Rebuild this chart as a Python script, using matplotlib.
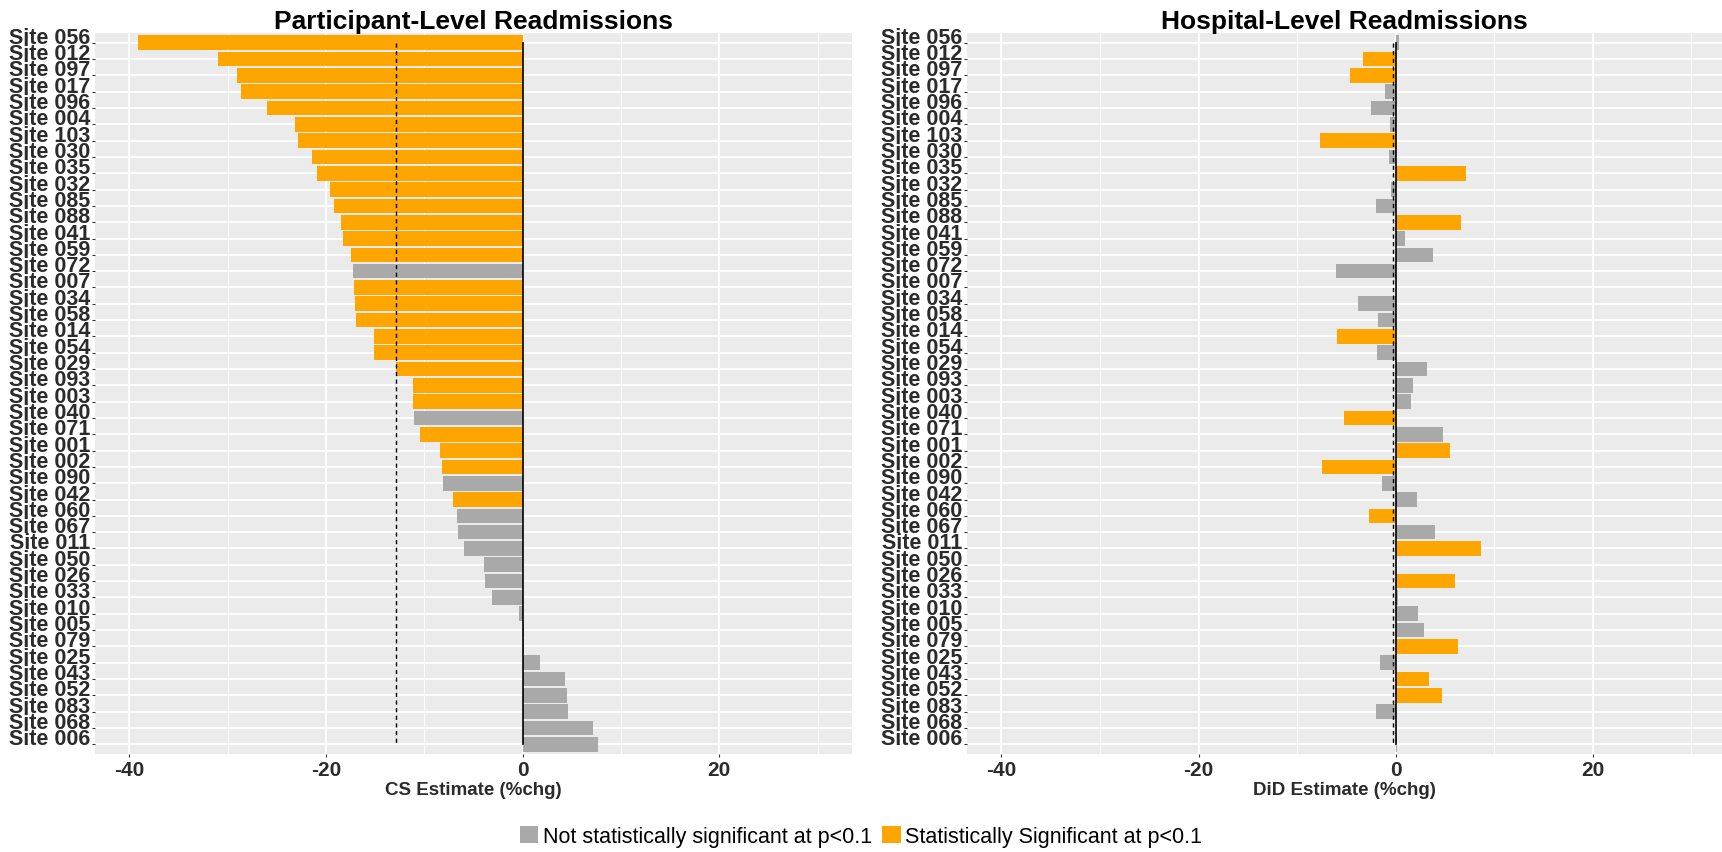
'Site-level readmission estimates, participant vs hospital level'
import matplotlib
matplotlib.use('Agg')
import matplotlib.pyplot as plt
from matplotlib.patches import Patch
import numpy as np

plt.rcParams['font.family'] = ['Liberation Sans', 'DejaVu Sans']
plt.rcParams['axes.unicode_minus'] = False

sites = ['056', '012', '097', '017', '096', '004', '103', '030', '035', '032',
         '085', '088', '041', '059', '072', '007', '034', '058', '014', '054',
         '029', '093', '003', '040', '071', '001', '002', '090', '042', '060',
         '067', '011', '050', '026', '033', '010', '005', '079', '025', '043',
         '052', '083', '068', '006']

# participant-level cross-sectional estimates (%chg)
cs_est = [-39.1, -31.0, -29.05, -28.7, -25.96, -23.16, -22.84, -21.42, -20.9, -19.64,
          -19.2, -18.44, -18.29, -17.49, -17.24, -17.16, -17.05, -16.95, -15.09, -15.09,
          -12.84, -11.2, -11.13, -11.02, -10.4, -8.36, -8.18, -8.07, -7.13, -6.65,
          -6.58, -5.96, -3.93, -3.82, -3.13, -0.36, 0.13, 0.1, 1.8, 4.3,
          4.47, 4.64, 7.15, 7.7]
cs_sig = [1, 1, 1, 1, 1, 1, 1, 1, 1, 1,
          1, 1, 1, 1, 0, 1, 1, 1, 1, 1,
          1, 1, 1, 0, 1, 1, 1, 0, 1, 0,
          0, 0, 0, 0, 0, 0, 0, 0, 0, 0,
          0, 0, 0, 0]
cs_mean = -12.9

# hospital-level difference-in-differences estimates (%chg)
did_est = [0.34, -3.28, -4.64, -1.05, -2.47, -0.61, -7.72, -0.71, 7.17, -0.51,
           -2.03, 6.63, 0.98, 3.82, -6.09, 0.0, -3.79, -1.83, -5.92, -1.93,
           3.18, 1.76, 1.59, -5.21, 4.77, 5.48, -7.45, -1.42, 2.13, -2.67,
           3.99, 8.66, 0.0, 6.02, 0.27, 2.23, 2.91, 6.36, -1.59, 3.35,
           4.70, -2.03, 0.0, 0.17]
did_sig = [0, 1, 1, 0, 0, 0, 1, 0, 1, 0,
           0, 1, 0, 0, 0, 0, 0, 0, 1, 0,
           0, 0, 0, 1, 0, 1, 1, 0, 0, 1,
           0, 1, 0, 1, 0, 0, 0, 1, 0, 1,
           1, 0, 0, 0]
did_mean = -0.24

ORANGE = '#FFA500'
GREY = '#A9A9A9'
BG = '#EBEBEB'
TXT = '#2b2b2b'

W, H = 1722, 853
fig = plt.figure(figsize=(W / 100, H / 100), dpi=100)


def px_axes(x0, x1, y0, y1):
    return fig.add_axes([x0 / W, (H - y1) / H, (x1 - x0) / W, (y1 - y0) / H])


def panel(ax, vals, sig, mean, title, xlabel, xmax):
    n = len(sites)
    y = np.arange(n)[::-1]
    colors = [ORANGE if s else GREY for s in sig]

    ax.set_facecolor(BG)
    for sp in ax.spines.values():
        sp.set_visible(False)
    ax.set_axisbelow(True)

    ax.barh(y, vals, height=0.9, color=colors, zorder=2)

    # mean (dashed) and zero (solid) reference lines
    ax.plot([mean, mean], [y[0], y[-1]], color='black', lw=1.0, ls=(0, (3, 2.5)), zorder=3)
    ax.plot([0, 0], [y[0], y[-1]], color='black', lw=1.2, zorder=3)

    ax.set_xlim(-43.5, xmax)
    ax.set_ylim(-0.6, n - 0.4)
    ax.set_xticks([-40, -20, 0, 20])
    ax.set_xticks([-30, -10, 10, 30], minor=True)
    ax.set_yticks(y)
    ax.set_yticklabels(['Site ' + s for s in sites])

    ax.grid(which='major', color='white', lw=1.3)
    ax.grid(which='minor', axis='x', color='white', lw=0.6)

    ax.tick_params(axis='y', length=2.5, width=0.8, color='#333333', pad=1,
                   labelsize=15.5, labelcolor=TXT)
    ax.tick_params(axis='x', which='major', length=2.5, width=0.8, color='#333333',
                   pad=2, labelsize=15, labelcolor=TXT)
    ax.tick_params(axis='x', which='minor', length=0)
    for lbl in ax.get_yticklabels():
        lbl.set_fontweight('bold')
        lbl.set_va('baseline')
    for lbl in ax.get_xticklabels():
        lbl.set_fontweight('bold')

    ax.set_title(title, fontsize=19, fontweight='bold', pad=3)
    ax.set_xlabel(xlabel, fontsize=13.5, fontweight='bold', color=TXT, labelpad=1)


ax1 = px_axes(95, 852, 34, 755)
panel(ax1, cs_est, cs_sig, cs_mean, 'Participant-Level Readmissions', 'CS Estimate (%chg)', 33.5)

ax2 = px_axes(967, 1722, 34, 755)
panel(ax2, did_est, did_sig, did_mean, 'Hospital-Level Readmissions', 'DiD Estimate (%chg)', 33.1)

handles = [Patch(facecolor=GREY, edgecolor='none', label='Not statistically significant at p<0.1'),
           Patch(facecolor=ORANGE, edgecolor='none', label='Statistically Significant at p<0.1')]
fig.legend(handles=handles, loc='center', bbox_to_anchor=(0.5, 0.018), ncol=2,
           frameon=False, fontsize=15.5, handlelength=0.85, handleheight=0.85,
           handletextpad=0.2, columnspacing=0.5, borderpad=0)

fig.savefig('out.png', dpi=100)
